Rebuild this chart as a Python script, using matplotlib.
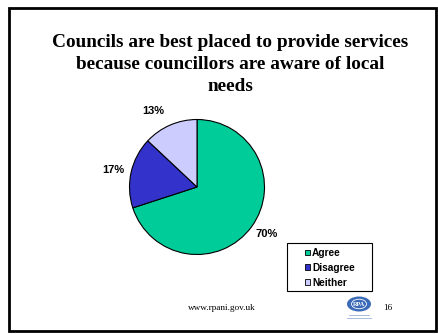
import numpy as np
import matplotlib.pyplot as plt
from matplotlib.patches import Ellipse, Rectangle

# Survey answers
categorias = ['Agree', 'Disagree', 'Neither']
porcentajes = [70, 17, 13]
colores = ['#00CC99', '#3333CC', '#CCCCFF']

titulo = 'Councils are best placed to provide services\nbecause councillors are aware of local\nneeds'
pie_pagina = 'www.rpani.gov.uk'
num_pagina = '16'

W, H = 438, 334
fig = plt.figure(figsize=(W / 100, H / 100), dpi=100)
fig.patch.set_facecolor('white')

# slide frame
fig.patches.append(Rectangle((9 / W, 1 - 331 / H), 427 / W, 323 / H,
                             transform=fig.transFigure, fill=False,
                             edgecolor='black', linewidth=2.0))

fig.text(230 / W, 1 - 34 / H, titulo, ha='center', va='top',
         family='Liberation Serif', fontweight='bold', fontsize=13.9,
         linespacing=1.4)

# pie
cx, cy, r = 197, 187, 67.5
ax = fig.add_axes([(cx - r) / W, (H - cy - r) / H, 2 * r / W, 2 * r / H])
cunas, textos, pct = ax.pie(porcentajes, colors=colores, startangle=90,
                            counterclock=False, autopct='%1.0f%%',
                            pctdistance=1.26,
                            wedgeprops=dict(edgecolor='black', linewidth=0.8))
# angulo y distancia de cada etiqueta de porcentaje
pos_etiquetas = [(-34, 1.25), (168.5, 1.27), (120, 1.30)]
for t, (ang, dist) in zip(pct, pos_etiquetas):
    a = np.radians(ang)
    t.set_position((dist * np.cos(a), dist * np.sin(a)))
    t.set_family('Liberation Sans')
    t.set_fontweight('bold')
    t.set_fontsize(8)
ax.set_xlim(-1, 1)
ax.set_ylim(-1, 1)
ax.set_aspect('equal')
ax.axis('off')

# legend box drawn separately so it can be wider than the entries
fig.patches.append(Rectangle((287 / W, 1 - 290.5 / H), 85 / W, 47.5 / H,
                             transform=fig.transFigure, fill=False,
                             edgecolor='black', linewidth=0.8))
leg = fig.legend(cunas, categorias, loc='upper left',
                 bbox_to_anchor=(304.5 / W, 1 - 248 / H),
                 frameon=False,
                 prop=dict(family='Liberation Sans', weight='bold', size=7.3),
                 handlelength=0.5, handleheight=0.5, handletextpad=0.25,
                 labelspacing=0.48, borderpad=0, borderaxespad=0)
for h in leg.legend_handles:
    h.set_linewidth(0.6)

# footer
fig.text(222 / W, 1 - 308 / H, pie_pagina, ha='center', va='center',
         family='Liberation Serif', fontsize=6.7)
fig.text(388 / W, 1 - 308 / H, num_pagina, ha='center', va='center',
         family='Liberation Serif', fontsize=6.7)

# logo
logo = fig.add_axes([343 / W, 1 - 322 / H, 32 / W, 28 / H])
logo.set_xlim(0, 32)
logo.set_ylim(28, 0)
logo.axis('off')
logo.add_patch(Ellipse((16, 10), 24, 15, facecolor='#3a6ab8', edgecolor='none'))
logo.add_patch(Ellipse((16, 10), 15, 9.5, facecolor='none', edgecolor='white', linewidth=0.6))
logo.text(16, 10.5, 'RPA', ha='center', va='center', color='white',
          family='Liberation Serif', fontsize=4.5, fontweight='bold')
logo.plot([6, 26], [21, 21], color='#9ab2d8', linewidth=0.6)
logo.plot([4, 28], [24, 24], color='#9ab2d8', linewidth=0.6)

fig.savefig('out.png', dpi=100)
